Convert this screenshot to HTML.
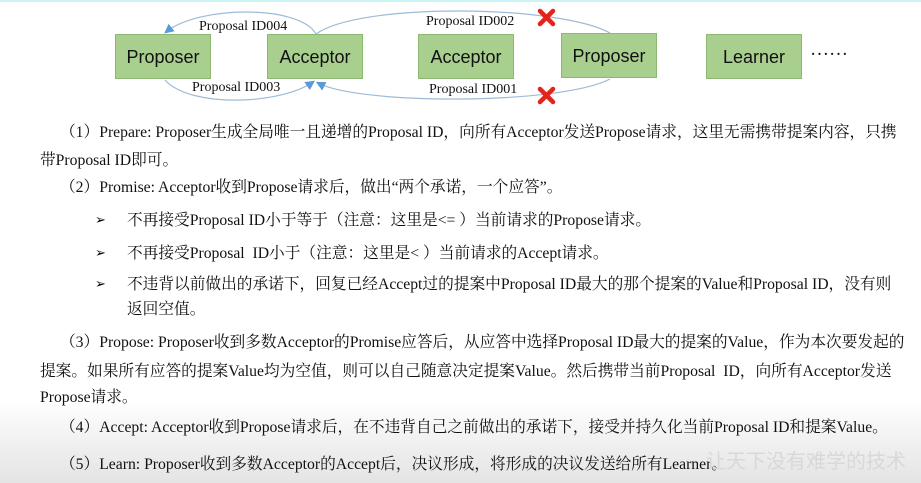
<!DOCTYPE html>
<html><head><meta charset="utf-8"><style>
body{margin:0;width:921px;height:483px;overflow:hidden;background:#fff;position:relative;font-family:"Liberation Serif","Noto Serif CJK SC",serif;}
.bg{position:absolute;left:0;top:0;width:921px;height:483px;background:linear-gradient(to bottom,#fff 0,#fff 400px,#eeeeee 450px,#e4e4e4 483px);}
.box{position:absolute;width:96px;height:45px;background:#a9cf8f;border:1px solid #8db872;box-sizing:border-box;font-family:"Liberation Sans",sans-serif;font-size:18px;color:#111;text-align:center;line-height:44px;}
.t{position:absolute;font-size:15.7px;color:#111;white-space:nowrap;line-height:20px;}
.lab{position:absolute;font-size:14px;color:#111;white-space:nowrap;}
.ar{position:absolute;left:95px;font-size:13px;font-family:"DejaVu Sans",sans-serif;}
</style></head><body>
<div class="bg"></div>
<div style="position:absolute;left:0;top:0;width:921px;height:2px;background:#c8f4f4"></div>
<svg width="921" height="120" style="position:absolute;left:0;top:0">
<defs><marker id="a" markerWidth="8" markerHeight="8" refX="6" refY="4" orient="auto"><path d="M0,0 L8,4 L0,8 z" fill="#5b9bd5"/></marker></defs>
<g fill="none" stroke="#9dbbd8" stroke-width="1.2">
<path d="M316,34 C300,5 200,5 166,32" marker-end="url(#a)"/>
<path d="M165,80 C190,108 280,105 313,82" marker-end="url(#a)"/>
<path d="M316,34 C360,2 560,5 610,33"/>
<path d="M610,79 C560,105 360,105 318,83" marker-end="url(#a)"/>
</g>
<g stroke="#e3241b" stroke-width="4.5" stroke-linecap="round">
<path d="M540,11 L553,24 M553,11 L540,24"/>
<path d="M540,89 L553,102 M553,89 L540,102"/>
</g>
</svg>
<div class="box" style="left:115px;top:34px">Proposer</div>
<div class="box" style="left:267px;top:34px">Acceptor</div>
<div class="box" style="left:418px;top:34px">Acceptor</div>
<div class="box" style="left:561px;top:33px">Proposer</div>
<div class="box" style="left:706px;top:34px">Learner</div>
<div class="t" style="left:810px;top:40px;font-size:19px">……</div>
<div class="lab" style="left:199px;top:19px">Proposal ID004</div>
<div class="lab" style="left:426px;top:14px">Proposal ID002</div>
<div class="lab" style="left:192px;top:80px">Proposal ID003</div>
<div class="lab" style="left:429px;top:82px">Proposal ID001</div>

<div class="t" style="left:60px;top:123px">（1）Prepare: Proposer生成全局唯一且递增的Proposal ID，向所有Acceptor发送Propose请求，这里无需携带提案内容，只携</div>
<div class="t" style="left:40px;top:151px">带Proposal ID即可。</div>
<div class="t" style="left:60px;top:178px">（2）Promise: Acceptor收到Propose请求后，做出“两个承诺，一个应答”。</div>
<div class="ar" style="top:213px">➢</div><div class="t" style="left:127px;top:211px">不再接受Proposal ID小于等于（注意：这里是&lt;= ）当前请求的Propose请求。</div>
<div class="ar" style="top:246px">➢</div><div class="t" style="left:127px;top:244px">不再接受Proposal&nbsp; ID小于（注意：这里是&lt; ）当前请求的Accept请求。</div>
<div class="ar" style="top:277px">➢</div><div class="t" style="left:127px;top:275px">不违背以前做出的承诺下，回复已经Accept过的提案中Proposal ID最大的那个提案的Value和Proposal ID，没有则</div>
<div class="t" style="left:127px;top:300px">返回空值。</div>
<div class="t" style="left:60px;top:333px">（3）Propose: Proposer收到多数Acceptor的Promise应答后，从应答中选择Proposal ID最大的提案的Value，作为本次要发起的</div>
<div class="t" style="left:40px;top:362px">提案。如果所有应答的提案Value均为空值，则可以自己随意决定提案Value。然后携带当前Proposal&nbsp; ID，向所有Acceptor发送</div>
<div class="t" style="left:40px;top:388px">Propose请求。</div>
<div class="t" style="left:60px;top:418px">（4）Accept: Acceptor收到Propose请求后，在不违背自己之前做出的承诺下，接受并持久化当前Proposal ID和提案Value。</div>
<div class="t" style="left:60px;top:455px">（5）Learn: Proposer收到多数Acceptor的Accept后，决议形成，将形成的决议发送给所有Learner。</div>
<div class="t" style="left:706px;top:450px;font-size:20px;color:#d8d8d8;font-family:'Noto Sans CJK SC',sans-serif">让天下没有难学的技术</div>
</body></html>
